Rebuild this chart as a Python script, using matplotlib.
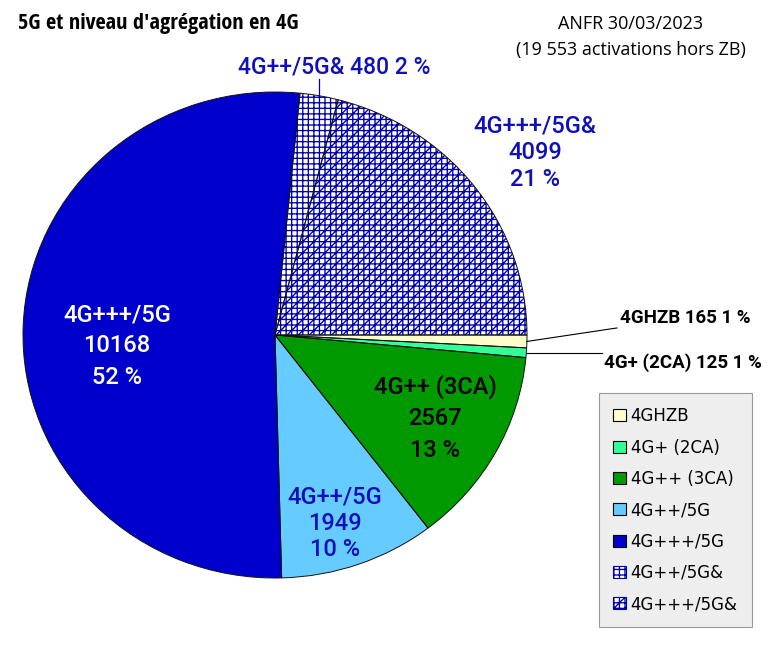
import numpy as np
import matplotlib
matplotlib.use('Agg')
import matplotlib.pyplot as plt
from matplotlib.patches import Patch
from matplotlib import font_manager

# data
categories = ['4GHZB', '4G+ (2CA)', '4G++ (3CA)', '4G++/5G', '4G+++/5G', '4G++/5G&', '4G+++/5G&']
counts = [165, 125, 2567, 1949, 10168, 480, 4099]
colors = ['#ffffcc', '#33ff99', '#009900', '#66ccff', '#0000cc', 'white', 'white']
hatches = [None, None, None, None, None, '+++', '+++///']
title = "5G et niveau d'agrégation en 4G"
source = 'ANFR 30/03/2023\n(19 553 activations hors ZB)'

hatch_blue = '#0000aa'
text_blue = '#1010b8'

avail = {f.name for f in font_manager.fontManager.ttflist}
title_font, title_size = 'Roboto', 15
for name, size in [('Open Sans Condensed', 16), ('Roboto Condensed', 16),
                   ('Liberation Sans Narrow', 16)]:
    if name in avail:
        title_font, title_size = name, size
        break

plt.rcParams['hatch.linewidth'] = 0.95

fig = plt.figure(figsize=(7.69, 6.5), dpi=100)
ax = fig.add_axes([23 / 769, 72 / 650, 504 / 769, 486 / 650])

wedges, _ = ax.pie(counts, colors=colors, startangle=0, counterclock=False,
                   wedgeprops=dict(linewidth=0, edgecolor=hatch_blue))
for w, h in zip(wedges, hatches):
    w.set_clip_on(False)
    if h:
        w.set_hatch(h)

# black outline on top
outline, _ = ax.pie(counts, colors=['none'] * len(counts), startangle=0, counterclock=False,
                    wedgeprops=dict(linewidth=0.7, edgecolor='#111111', fill=False))
for w in outline:
    w.set_clip_on(False)

ax.set_xlim(-1, 1)
ax.set_ylim(-1, 1)
ax.set_aspect('auto')
ax.axis('off')

total = sum(counts)
pct = [int(round(100 * c / total)) for c in counts]


def mid(i):
    a = np.deg2rad((wedges[i].theta1 + wedges[i].theta2) / 2)
    return np.cos(a), np.sin(a)


lbl = dict(family='Roboto', fontsize=17, fontweight='medium', ha='center', va='center',
           clip_on=False)

# labels inside the pie
ax.text(-0.627, -0.045, f'{categories[4]}\n{counts[4]}\n{pct[4]} %', color='white',
        linespacing=1.45, **lbl)
ax.text(0.635, -0.342, f'{categories[2]}\n{counts[2]}\n{pct[2]} %', color='black',
        linespacing=1.45, **lbl)
ax.text(0.238, -0.774, f'{categories[3]}\n{counts[3]}\n{pct[3]} %', color=text_blue,
        linespacing=1.17, **lbl)
ax.text(1.032, 0.749, f'{categories[6]}\n{counts[6]}\n{pct[6]} %', color=text_blue,
        linespacing=1.2, **lbl)

# outside labels with leader lines
x0, y0 = mid(5)
ax.plot([x0, x0], [y0, 1.053], color=hatch_blue, lw=0.9, clip_on=False)
ax.text(0.234, 1.103, f'{categories[5]} {counts[5]} {pct[5]} %', color=text_blue,
        family='Roboto', fontsize=16.5, fontweight='medium', ha='center', va='center')

x0, y0 = mid(0)
ax.plot([x0, 1.357], [y0, 0.029], color='black', lw=0.8, clip_on=False)
ax.text(1.369, 0.07, f'{categories[0]} {counts[0]} {pct[0]} %', color='black',
        family='Roboto', fontsize=13.5, fontweight='bold', ha='left', va='center')

x0, y0 = mid(1)
ax.plot([x0, 1.298], [y0, y0], color='black', lw=0.8, clip_on=False)
ax.text(1.306, -0.115, f'{categories[1]} {counts[1]} {pct[1]} %', color='black',
        family='Roboto', fontsize=13.5, fontweight='bold', ha='left', va='center')

# titles
fig.text(18 / 769, 1 - 23 / 650, title, family=title_font, fontsize=title_size,
         fontweight='bold', ha='left', va='center')
fig.text(631 / 769, 1 - 37 / 650, source, family='Open Sans', fontsize=13,
         ha='center', va='center', linespacing=1.6)

# legend
handles = []
for c, h in zip(colors, hatches):
    if h:
        handles.append(Patch(facecolor='white', edgecolor=hatch_blue, hatch=h, lw=0.8))
    else:
        handles.append(Patch(facecolor=c, edgecolor='black', lw=0.8))
leg = fig.legend(handles, categories, loc='upper left',
                 bbox_to_anchor=(599 / 769, 1 - 393 / 650), bbox_transform=fig.transFigure,
                 frameon=True, fancybox=False, framealpha=1, facecolor='#eeeeee',
                 edgecolor='#999999', prop=dict(family='DejaVu Sans', size=12),
                 handlelength=0.75, handleheight=0.75, handletextpad=0.3,
                 labelspacing=0.8, borderpad=0.85, borderaxespad=0)
leg.get_frame().set_linewidth(0.8)

fig.savefig('out.png', dpi=100)
